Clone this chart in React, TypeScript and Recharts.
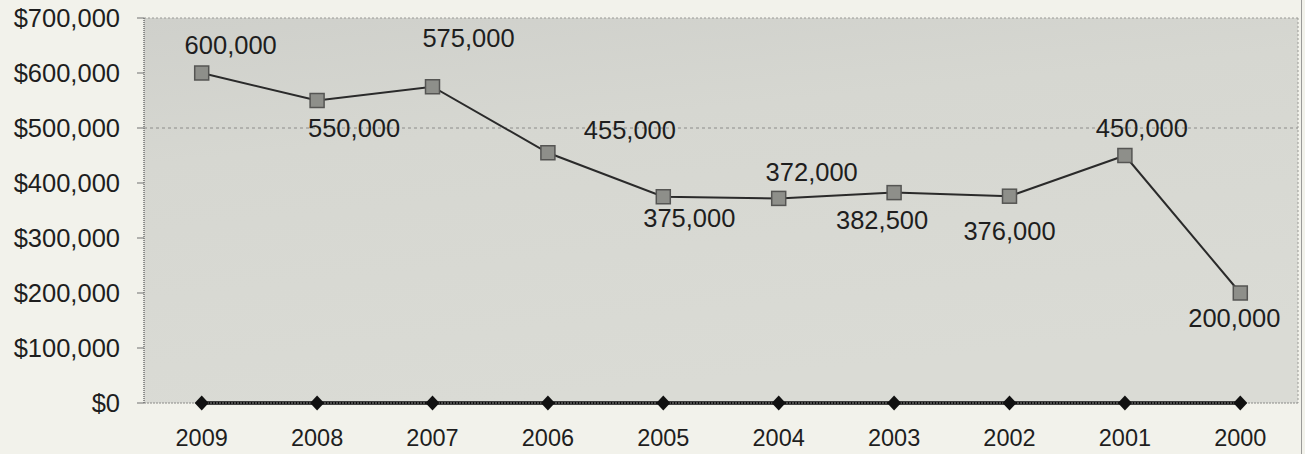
import React from "react";
import {
  LineChart,
  Line,
  XAxis,
  YAxis,
  CartesianGrid,
  ReferenceLine,
  LabelList,
} from "recharts";

const years = ["2009", "2008", "2007", "2006", "2005", "2004", "2003", "2002", "2001", "2000"];
const amounts = [600000, 550000, 575000, 455000, 375000, 372000, 382500, 376000, 450000, 200000];
const baseline = [0, 0, 0, 0, 0, 0, 0, 0, 0, 0];
const yTicks = [0, 100000, 200000, 300000, 400000, 500000, 600000, 700000];

// label placement (offset of label centre from its point), as placed in the original
const labelOffsets: [number, number][] = [
  [29, -28],
  [37, 27],
  [36, -49],
  [82, -23],
  [26, 21],
  [33, -26],
  [-12, 27],
  [0, 35],
  [17, -28],
  [-6, 25],
];

const data = years.map((year, i) => ({ year, amount: amounts[i], base: baseline[i] }));

const FONT = "'Liberation Sans', Arial, sans-serif";
const TEXT = "#1e1e1e";

const YTick = (props: any) => {
  const { x, y, payload } = props;
  return (
    <text x={x} y={y} dy="0.355em" textAnchor="end" fontFamily={FONT} fontSize={25.5} fill={TEXT}>
      {"$" + Number(payload.value).toLocaleString("en-US")}
    </text>
  );
};

const XTick = (props: any) => {
  const { x, y, payload } = props;
  return (
    <text x={x} y={y + 35} dy="0.355em" textAnchor="middle" fontFamily={FONT} fontSize={23.5} fill={TEXT}>
      {payload.value}
    </text>
  );
};

const SquareDot = (props: any) => {
  const { cx, cy, index } = props;
  if (cx == null || cy == null) return null;
  const s = 14;
  return (
    <rect
      key={`sq-${index}`}
      x={cx - s / 2}
      y={cy - s / 2}
      width={s}
      height={s}
      fill="#8e8f8a"
      stroke="#555553"
      strokeWidth={1.5}
    />
  );
};

const DiamondDot = (props: any) => {
  const { cx, cy, index } = props;
  if (cx == null || cy == null) return null;
  const w = 7;
  const h = 7.5;
  return (
    <polygon
      key={`dm-${index}`}
      points={`${cx},${cy - h} ${cx + w},${cy} ${cx},${cy + h} ${cx - w},${cy}`}
      fill="#111"
    />
  );
};

const ValueLabel = (props: any) => {
  const { x, y, value, index } = props;
  const [dx, dy] = labelOffsets[index] || [0, -25];
  return (
    <text
      x={x + dx}
      y={y + dy}
      dy="0.355em"
      textAnchor="middle"
      fontFamily={FONT}
      fontSize={25.5}
      fill={TEXT}
    >
      {Number(value).toLocaleString("en-US")}
    </text>
  );
};

export default function App() {
  return (
    <div
      style={{
        position: "absolute",
        left: 0,
        top: 0,
        width: 1305,
        height: 454,
        background: "#f2f2eb",
        overflow: "hidden",
      }}
    >
      <div
        style={{
          position: "absolute",
          left: 1301,
          top: 0,
          width: 1,
          height: 454,
          background: "#9a9a98",
        }}
      />
      <LineChart
        width={1305}
        height={454}
        data={data}
        margin={{ top: 18, right: 7, bottom: 21, left: 0 }}
      >
        <defs>
          <linearGradient id="plotBg" x1="0" y1="0" x2="0.3" y2="1">
            <stop offset="0%" stopColor="#cfd0cb" />
            <stop offset="35%" stopColor="#d6d7d1" />
            <stop offset="100%" stopColor="#dadbd5" />
          </linearGradient>
        </defs>
        <CartesianGrid
          fill="url(#plotBg)"
          horizontal={false}
          vertical={true}
          stroke="#9a9a96"
          strokeDasharray="2 2"
          verticalCoordinatesGenerator={(p: any) => [p.offset.left + p.offset.width]}
        />
        <ReferenceLine y={700000} stroke="#9a9a96" strokeDasharray="2 2" />
        <ReferenceLine y={500000} stroke="#8c8c8a" strokeDasharray="3 3" />
        <XAxis
          dataKey="year"
          type="category"
          height={30}
          padding={{ left: 57.7, right: 57.7 }}
          tickLine={false}
          tickSize={0}
          tickMargin={0}
          axisLine={{ stroke: "#8a8a88", strokeDasharray: "2 1" }}
          tick={<XTick />}
          interval={0}
        />
        <YAxis
          width={144}
          domain={[0, 700000]}
          ticks={yTicks}
          interval={0}
          tickSize={7}
          tickMargin={17}
          axisLine={{ stroke: "#707070", strokeDasharray: "1 1", strokeWidth: 1.5 }}
          tickLine={{ stroke: "#707070" }}
          tick={<YTick />}
        />
        <Line
          dataKey="amount"
          stroke="#2a2a2a"
          strokeWidth={2}
          dot={<SquareDot />}
          activeDot={false}
          isAnimationActive={false}
        >
          <LabelList dataKey="amount" content={<ValueLabel />} />
        </Line>
        <Line
          dataKey="base"
          stroke="#0a0a0a"
          strokeWidth={3.5}
          dot={<DiamondDot />}
          activeDot={false}
          isAnimationActive={false}
        />
      </LineChart>
    </div>
  );
}
